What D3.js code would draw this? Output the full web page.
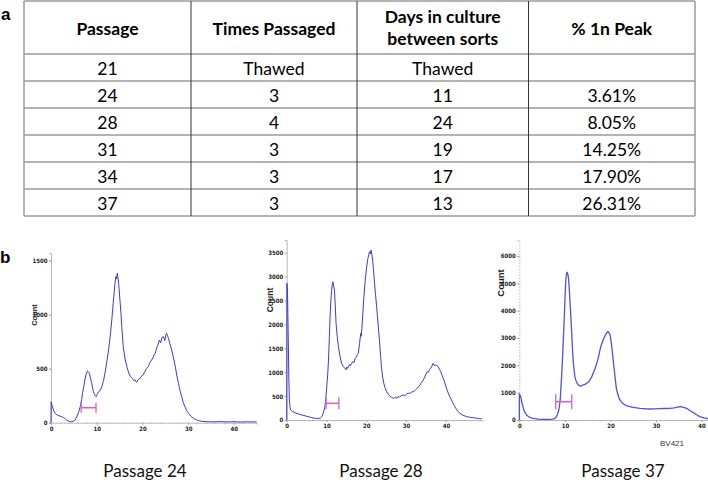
<!DOCTYPE html>
<html><head><meta charset="utf-8">
<script src="https://cdn.jsdelivr.net/npm/d3@7"></script>
<style>body{margin:0;background:#fff}svg{display:block}</style>
</head><body>
<svg id="c" width="708" height="484"></svg>
<script>
// ---------- Table data ----------
const tableHeaders = [["Passage"], ["Times Passaged"], ["Days in culture", "between sorts"], ["% 1n Peak"]];
const passages = ["21", "24", "28", "31", "34", "37"];
const timesPassaged = ["Thawed", "3", "4", "3", "3", "3"];
const daysInCulture = ["Thawed", "11", "24", "19", "17", "13"];
const pctPeak = ["", "3.61%", "8.05%", "14.25%", "17.90%", "26.31%"];

// ---------- Histogram data: [BV421 channel, count] ----------
const p24 = [[0,0],[0.03,194],[0.3,150],[0.6,110],[0.9,86],[1.4,70],[1.9,62],[2.3,56],[2.7,48],[3.0,40],[3.4,25],[3.8,15],[4.2,10],[4.5,9],[4.9,14],[5.3,25],[5.8,71],[6.1,105],[6.4,148],[6.7,215],[6.9,272],[7.2,340],[7.4,395],[7.7,450],[8.0,478],[8.2,470],[8.4,457],[8.7,400],[8.9,364],[9.2,300],[9.4,272],[9.7,248],[9.9,241],[10.2,270],[10.4,287],[10.8,300],[11.1,333],[11.5,390],[11.8,457],[12.2,560],[12.6,673],[13.0,820],[13.3,951],[13.6,1100],[13.8,1198],[14.0,1290],[14.2,1352],[14.35,1330],[14.5,1383],[14.65,1340],[14.8,1290],[15.0,1180],[15.3,1012],[15.5,880],[15.8,704],[16.2,590],[16.6,519],[17.0,460],[17.4,426],[17.8,410],[18.1,390],[18.4,395],[18.7,375],[19.1,401],[19.5,410],[19.8,430],[20.1,441],[20.5,470],[20.9,503],[21.3,520],[21.6,555],[22.0,580],[22.3,600],[22.6,630],[22.8,642],[23.1,690],[23.4,720],[23.7,765],[24.0,740],[24.3,790],[24.6,796],[24.9,760],[25.1,810],[25.3,827],[25.5,800],[25.7,781],[26.0,730],[26.4,673],[26.8,600],[27.2,519],[27.5,440],[27.9,364],[28.2,300],[28.6,241],[28.9,190],[29.3,148],[29.7,110],[30.1,86],[30.6,60],[31.2,40],[31.8,28],[32.3,19],[33.0,13],[34.1,9],[35.5,8],[37,10],[38.5,7],[40,9],[41.5,6],[43,8],[45,7]];
const p28 = [[0,0],[0.05,2858],[0.2,2700],[0.4,1673],[0.55,800],[0.67,418],[0.85,260],[1.0,209],[1.5,175],[2.1,153],[3.0,125],[3.8,105],[4.6,88],[5.4,70],[6.2,52],[7.1,35],[7.8,33],[8.4,38],[8.8,70],[9.0,105],[9.3,170],[9.6,279],[9.8,420],[10.0,627],[10.3,950],[10.5,1255],[10.7,1700],[10.9,2161],[11.1,2500],[11.3,2718],[11.5,2860],[11.6,2893],[11.8,2800],[12.0,2718],[12.2,2400],[12.4,2021],[12.7,1750],[13.0,1533],[13.4,1330],[13.8,1185],[14.2,1120],[14.6,1080],[14.9,1050],[15.1,1110],[15.3,1080],[15.5,1115],[15.8,1160],[16.0,1130],[16.3,1185],[16.6,1220],[16.9,1200],[17.2,1289],[17.5,1320],[17.8,1370],[18.0,1394],[18.3,1600],[18.6,1812],[18.7,1750],[18.9,1917],[19.1,2200],[19.4,2579],[19.7,2900],[20.1,3206],[20.4,3380],[20.8,3520],[21.0,3480],[21.2,3555],[21.4,3450],[21.6,3346],[21.8,3150],[22.0,2927],[22.3,2650],[22.6,2370],[23.0,1980],[23.3,1673],[23.6,1330],[23.8,1115],[24.1,900],[24.4,767],[24.7,680],[25.1,592],[25.5,540],[25.9,502],[26.4,470],[26.9,453],[27.4,475],[27.7,455],[28.0,488],[28.4,480],[28.8,510],[29.3,523],[29.7,505],[30.1,545],[30.5,558],[31.0,560],[31.4,585],[31.8,592],[32.2,615],[32.6,650],[33.1,697],[33.5,730],[33.9,790],[34.3,836],[34.7,900],[35.0,960],[35.3,1011],[35.6,1000],[35.9,1060],[36.2,1080],[36.5,1130],[36.8,1185],[37.1,1140],[37.5,1150],[37.8,1130],[38.1,1115],[38.4,1060],[38.7,1011],[39.1,920],[39.5,836],[39.9,730],[40.3,627],[40.8,520],[41.4,418],[41.9,330],[42.5,244],[43.0,185],[43.5,139],[44.3,100],[45.2,70],[46.0,58],[46.9,49],[47.7,38],[48.5,28],[49,26]];
const p37 = [[0,0],[0.02,951],[0.3,854],[0.6,610],[1.0,366],[1.3,260],[1.6,183],[2.0,130],[2.3,98],[2.8,70],[3.4,49],[4.1,35],[4.9,24],[5.8,22],[6.7,24],[7.3,35],[7.8,61],[8.1,110],[8.3,183],[8.6,320],[8.8,488],[9.0,800],[9.1,1098],[9.3,1650],[9.5,2318],[9.7,3100],[9.9,3904],[10.05,4550],[10.2,5124],[10.35,5350],[10.5,5405],[10.65,5330],[10.8,5185],[10.95,4850],[11.1,4392],[11.3,3800],[11.5,3172],[11.65,2650],[11.8,2196],[12.0,1850],[12.2,1586],[12.45,1430],[12.7,1342],[13.0,1280],[13.3,1244],[13.6,1250],[14.0,1281],[14.4,1300],[14.8,1342],[15.2,1400],[15.5,1464],[15.9,1580],[16.2,1708],[16.6,1880],[17.0,2074],[17.4,2330],[17.7,2562],[18.0,2750],[18.4,2928],[18.8,3080],[19.2,3196],[19.5,3233],[19.7,3190],[19.9,3111],[20.05,2980],[20.2,2806],[20.4,2500],[20.6,2196],[20.8,1880],[21.0,1586],[21.15,1360],[21.3,1159],[21.6,950],[21.9,793],[22.3,680],[22.7,610],[23.1,560],[23.5,525],[24.2,490],[25.0,464],[25.8,440],[26.5,427],[27.6,412],[28.7,403],[29.7,408],[30.8,415],[31.9,420],[33.0,427],[34.0,445],[35.2,488],[35.9,470],[36.7,427],[37.4,350],[38.2,268],[38.9,190],[39.6,122],[40.5,75],[41.4,49]];

// gate markers: [start, end, count level]
const gate24 = [6.6, 9.85, 139];
const gate28 = [9.9, 13.1, 349];
const gate37 = [8.0, 11.5, 670];

const xTicks24 = [0, 10, 20, 30, 40], yTicks24 = [0, 500, 1000, 1500];
const xTicks28 = [0, 10, 20, 30, 40], yTicks28 = [0, 500, 1000, 1500, 2000, 2500, 3000, 3500];
const xTicks37 = [0, 10, 20, 30, 40], yTicks37 = [0, 1000, 2000, 3000, 4000, 5000, 6000];
const panelTitles = ["Passage 24", "Passage 28", "Passage 37"];

const svg = d3.select("#c");
const FONT = "Lato, 'Open Sans', sans-serif";

// ---------- panel labels ----------
svg.append("text").attr("x", 1).attr("y", 20).text("a")
  .attr("font-family", "Liberation Sans, Arial, sans-serif").attr("font-weight", "bold").attr("font-size", 17);
svg.append("text").attr("x", 0).attr("y", 263).text("b")
  .attr("font-family", "Liberation Sans, Arial, sans-serif").attr("font-weight", "bold").attr("font-size", 17);

// ---------- Table ----------
const colX = d3.scaleOrdinal().domain([0, 1, 2, 3, 4]).range([24, 191, 357, 528.5, 695]);
const colEdges = [0, 1, 2, 3, 4].map(i => colX(i));
const rowY = d3.scaleLinear().domain([0, 6]).range([54, 216]);
const tbl = svg.append("g");
const cols = [passages, timesPassaged, daysInCulture, pctPeak];

[-1, 0, 1, 2, 3, 4, 5, 6].forEach(i => {
  const y = i < 0 ? 1 : rowY(i);
  tbl.append("line").attr("x1", 24).attr("x2", 695).attr("y1", y).attr("y2", y)
    .attr("stroke", "#9a9a9a").attr("stroke-width", 1.5);
});
colEdges.forEach((x, i) => {
  tbl.append("line").attr("x1", x).attr("x2", x).attr("y1", 1).attr("y2", 216)
    .attr("stroke", (i === 0 || i === 4) ? "#9a9a9a" : "#333").attr("stroke-width", (i === 0 || i === 4) ? 1.5 : 1);
});
tableHeaders.forEach((lines, c) => {
  const cx = (colEdges[c] + colEdges[c + 1]) / 2;
  const t = tbl.append("text").attr("text-anchor", "middle").attr("font-family", FONT)
    .attr("font-weight", "bold").attr("font-size", 17.5).attr("fill", "#000");
  if (lines.length === 1) {
    t.append("tspan").attr("x", cx).attr("y", 35).text(lines[0]);
  } else {
    t.append("tspan").attr("x", cx).attr("y", 23).text(lines[0]);
    t.append("tspan").attr("x", cx).attr("y", 44.5).text(lines[1]);
  }
});
cols.forEach((vals, c) => {
  const cx = (colEdges[c] + colEdges[c + 1]) / 2;
  vals.forEach((v, r) => {
    tbl.append("text").attr("x", cx).attr("y", (rowY(r) + rowY(r + 1)) / 2 + 7)
      .attr("text-anchor", "middle").attr("font-family", FONT).attr("font-size", 17.5)
      .attr("fill", "#000").text(v);
  });
});

// ---------- Histograms ----------
function panel(cfg) {
  const g = svg.append("g");
  const x = d3.scaleLinear().domain(cfg.xDom).range(cfg.xRange);
  const y = d3.scaleLinear().domain(cfg.yDom).range(cfg.yRange);
  const xa = g.append("g").attr("transform", `translate(0,${cfg.yRange[0]})`)
    .call(d3.axisBottom(x).tickValues(cfg.xTicks).tickSize(2).tickPadding(2).tickFormat(d3.format("d")));
  xa.select(".domain").attr("stroke", "#b8b8b8");
  xa.selectAll(".tick line").attr("stroke", "#999");
  xa.selectAll("text").attr("font-family", "'Liberation Sans Narrow', 'DejaVu Sans Condensed', sans-serif")
    .attr("font-size", 6).attr("font-weight", "bold").attr("fill", "#222");
  const minor = d3.range(cfg.xDom[0], cfg.xDom[1], 2);
  g.selectAll(".mx").data(minor).join("line")
    .attr("x1", d => x(d)).attr("x2", d => x(d))
    .attr("y1", cfg.yRange[0]).attr("y2", cfg.yRange[0] + 1.5).attr("stroke", "#bbb");
  const ya = g.append("g").attr("transform", `translate(${cfg.xRange[0]},0)`)
    .call(d3.axisLeft(y).tickValues(cfg.yTicks).tickSize(2).tickPadding(1.5).tickFormat(d3.format("d")));
  ya.select(".domain").attr("stroke", "#b8b8b8").attr("stroke-dasharray", cfg.dotted ? "1.5,1.5" : null);
  ya.selectAll(".tick line").attr("stroke", "#999");
  ya.selectAll("text").attr("font-family", "'Liberation Sans Narrow', 'DejaVu Sans Condensed', sans-serif")
    .attr("font-size", 6).attr("font-weight", "bold").attr("fill", "#222");
  g.append("text").attr("transform", `translate(${cfg.countPos[0]},${cfg.countPos[1]}) rotate(-90)`)
    .attr("text-anchor", "middle").attr("font-family", "'Liberation Sans', Arial, sans-serif")
    .attr("font-weight", "bold").attr("font-size", cfg.countSize).attr("fill", "#222").text("Count");
  g.append("path").datum(cfg.data)
    .attr("d", d3.line().x(d => x(d[0])).y(d => y(d[1])))
    .attr("fill", "none").attr("stroke", cfg.color).attr("stroke-width", cfg.sw).attr("stroke-linejoin", "round");
  const [g0, g1, gy] = cfg.gate;
  const gc = "#d264c4";
  g.append("line").attr("x1", x(g0)).attr("x2", x(g1)).attr("y1", y(gy)).attr("y2", y(gy)).attr("stroke", gc).attr("stroke-width", 1.6);
  [g0, g1].forEach(v => g.append("line").attr("x1", x(v)).attr("x2", x(v))
    .attr("y1", y(gy) - cfg.cap).attr("y2", y(gy) + cfg.cap).attr("stroke", gc).attr("stroke-width", 1.3));
  g.append("text").attr("x", cfg.titleX).attr("y", 477).attr("text-anchor", "middle")
    .attr("font-family", FONT).attr("font-size", 17).attr("fill", "#111").text(cfg.title);
  return {x, y, g};
}

panel({data: p24, xDom: [0, 45], xRange: [51, 256.7], yDom: [0, 1570], yRange: [422.7, 253],
  xTicks: xTicks24, yTicks: yTicks24, gate: gate24, cap: 5, countPos: [37, 315], countSize: 7.5,
  color: "#3a3ad8", sw: 1, title: panelTitles[0], titleX: 145});
panel({data: p28, xDom: [0, 49], xRange: [286.7, 481.7], yDom: [0, 3766], yRange: [420, 240],
  xTicks: xTicks28, yTicks: yTicks28, gate: gate28, cap: 6, countPos: [273, 300], countSize: 8.5,
  color: "#3a3ad8", sw: 1, title: panelTitles[1], titleX: 381});
const p3 = panel({data: p37, xDom: [0, 41.4], xRange: [519.3, 708], yDom: [0, 6586], yRange: [420, 240],
  xTicks: xTicks37, yTicks: yTicks37, gate: gate37, cap: 7.5, countPos: [504, 283], countSize: 9.5, dotted: true,
  color: "#5050e6", sw: 1.3, title: panelTitles[2], titleX: 623});
p3.g.append("text").attr("x", 672).attr("y", 446).attr("text-anchor", "middle")
  .attr("font-family", "'Liberation Sans Narrow', sans-serif").attr("font-size", 8).attr("fill", "#333").text("BV421");
</script>
</body></html>
